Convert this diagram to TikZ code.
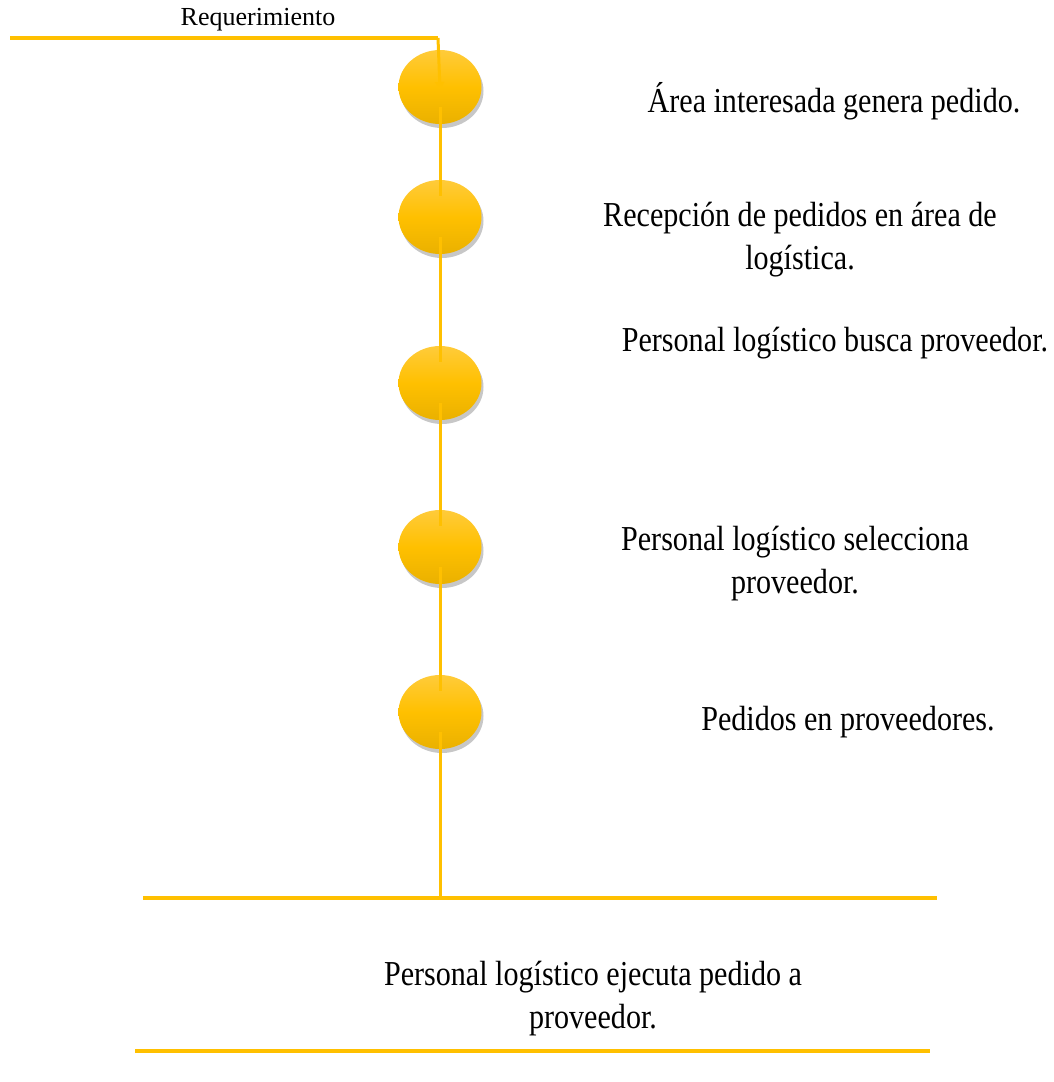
\documentclass[tikz,border=0pt]{standalone}
\usepackage{fontspec}
\setmainfont{Liberation Serif}
\newfontfamily\condserif{Liberation Serif}[FakeStretch=0.86]
\usetikzlibrary{shadows,arrows.meta,shapes.geometric}
\definecolor{gold}{HTML}{FFC000}
\definecolor{goldtop}{HTML}{FFCB3A}
\definecolor{golddark}{HTML}{EAB100}
\tikzset{
  dot/.style={ellipse, minimum width=83pt, minimum height=74pt, inner sep=0pt,
    top color=goldtop, bottom color=golddark, middle color=gold, draw=none,
    drop shadow={shadow xshift=2pt, shadow yshift=-4pt, fill=black, opacity=0.22}},
  link/.style={draw=gold, line width=3pt},
  bar/.style={draw=gold, line width=4.5pt},
  lbl/.style={align=center, font=\condserif\fontsize{35}{43}\selectfont, inner sep=0pt},
}
\begin{document}
\begin{tikzpicture}[x=1pt,y=-1pt]
\useasboundingbox (0,0) rectangle (1053,1082);
\node[font=\fontsize{26}{30}\selectfont, inner sep=0pt] (req) at (258,20) {Requerimiento};
\coordinate (start) at (10,38);
\coordinate (corner) at (438,38);
\node[dot] (c1) at (440,87) {};
\node[dot] (c2) at (440,217) {};
\node[dot] (c3) at (440,383) {};
\node[dot] (c4) at (440,547) {};
\node[dot] (c5) at (440,712) {};
\coordinate (join) at (440,898);
\coordinate (l1) at (143,898);
\coordinate (r1) at (937,898);
\coordinate (l2) at (135,1051);
\coordinate (r2) at (930,1051);
\draw[bar, line width=4pt] (start) -- (corner);
\draw[link, -{Triangle[width=9pt,length=8pt]}] (corner) -- ([yshift=-3pt]c1.center);
\draw[link] ([yshift=17pt]c1.south) -- ([yshift=-16pt]c2.north);
\draw[link] ([yshift=17pt]c2.south) -- ([yshift=-16pt]c3.north);
\draw[link] ([yshift=17pt]c3.south) -- ([yshift=-16pt]c4.north);
\draw[link] ([yshift=17pt]c4.south) -- ([yshift=-16pt]c5.north);
\draw[link] ([yshift=17pt]c5.south) -- (join);
\draw[bar] (l1) -- (r1);
\draw[bar] (l2) -- (r2);
\node[lbl] (t1) at (834,101) {Área interesada genera pedido.};
\node[lbl] (t2) at (800,240) {Recepción de pedidos en área de\\logística.};
\node[lbl] (t3) at (835,343) {Personal logístico busca proveedor.};
\node[lbl] (t4) at (795,564) {Personal logístico selecciona\\proveedor.};
\node[lbl] (t5) at (848,722) {Pedidos en proveedores.};
\node[lbl] (t6) at (593,999) {Personal logístico ejecuta pedido a\\proveedor.};
\end{tikzpicture}
\end{document}
